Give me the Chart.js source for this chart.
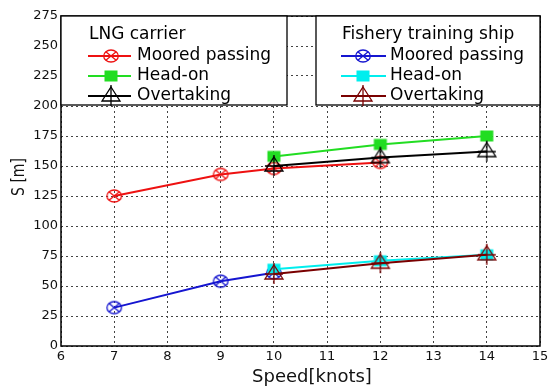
<!DOCTYPE html>
<html>
<head>
<meta charset="utf-8">
<script src="https://cdn.jsdelivr.net/npm/chart.js@4/dist/chart.umd.min.js"></script>
<style>
  html, body { margin: 0; padding: 0; background: #fff; }
  #wrap { width: 554px; height: 388px; }
</style>
</head>
<body>
<div id="wrap"><canvas id="c" width="554" height="388"></canvas></div>
<script>
// Safe passing distance S [m] against ship speed [knots]
const speedsMoored = [7, 9, 10, 12];
const speedsMoving = [10, 12, 14];
const speedsFishMoored = [7, 9, 10];

const lngMoored = [125, 143, 148, 153];
const lngHeadOn = [158, 168, 175];
const lngOvertaking = [150, 157, 162];

const fishMoored = [32, 54, 61];
const fishHeadOn = [64, 71, 76];
const fishOvertaking = [60, 69, 76];

const xTicks = [6, 7, 8, 9, 10, 11, 12, 13, 14, 15];
const yTicks = [0, 25, 50, 75, 100, 125, 150, 175, 200, 225, 250, 275];

const xTitle = 'Speed[knots]';
const yTitle = 'S [m]';

const FONT = 'DejaVu Sans';

function markerCanvas(kind, color) {
  const s = 26, c = document.createElement('canvas');
  c.width = s; c.height = s;
  const g = c.getContext('2d');
  const m = s / 2;
  g.strokeStyle = color; g.fillStyle = color; g.lineWidth = 1.3;
  if (kind === 'moored') {
    g.beginPath(); g.ellipse(m, m, 7.3, 6, 0, 0, Math.PI * 2); g.stroke();
    g.beginPath();
    g.moveTo(m - 5.2, m - 4.2); g.lineTo(m + 5.2, m + 4.2);
    g.moveTo(m + 5.2, m - 4.2); g.lineTo(m - 5.2, m + 4.2);
    g.stroke();
  } else if (kind === 'headon') {
    g.fillRect(m - 6.5, m - 5.5, 13, 11);
  } else {
    g.beginPath();
    g.moveTo(m, m - 9); g.lineTo(m + 9, m + 5); g.lineTo(m - 9, m + 5); g.closePath();
    g.stroke();
    g.beginPath();
    g.moveTo(m, m - 11); g.lineTo(m, m + 10);
    g.moveTo(m - 9, m); g.lineTo(m + 9, m);
    g.stroke();
  }
  return c;
}

const series = [
  { label: 'Moored passing', xs: speedsMoored, ys: lngMoored, color: '#ee1111', kind: 'moored', order: 3 },
  { label: 'Head-on', xs: speedsMoving, ys: lngHeadOn, color: '#22dd22', kind: 'headon', order: 2 },
  { label: 'Overtaking', xs: speedsMoving, ys: lngOvertaking, color: '#000000', kind: 'over', order: 1 },
  { label: 'Moored passing', xs: speedsFishMoored, ys: fishMoored, color: '#1515d0', kind: 'moored', order: 3 },
  { label: 'Head-on', xs: speedsMoving, ys: fishHeadOn, color: '#00eeee', kind: 'headon', order: 2 },
  { label: 'Overtaking', xs: speedsMoving, ys: fishOvertaking, color: '#7a0000', kind: 'over', order: 1 }
];
series.forEach(s => { s.marker = markerCanvas(s.kind, s.color); });

const datasets = series.map(s => ({
  label: s.label,
  data: s.xs.map((x, i) => ({ x: x, y: s.ys[i] })),
  borderColor: s.color,
  backgroundColor: s.color,
  borderWidth: 2,
  pointStyle: s.marker,
  pointRadius: 9,
  pointHoverRadius: 9,
  showLine: true,
  fill: false,
  tension: 0,
  order: s.order
}));

const framePlugin = {
  id: 'frame',
  afterDatasetsDraw(chart) {
    const { ctx, chartArea: a } = chart;
    ctx.save();
    ctx.strokeStyle = '#000'; ctx.lineWidth = 1.5;
    ctx.strokeRect(a.left, a.top, a.right - a.left, a.bottom - a.top);
    // axis titles
    ctx.fillStyle = '#111';
    ctx.textAlign = 'center'; ctx.textBaseline = 'middle';
    ctx.font = '18px "' + FONT + '"';
    ctx.fillText(xTitle, 312, 377);
    ctx.translate(19, 177);
    ctx.rotate(-Math.PI / 2);
    ctx.scale(1, 1.3);
    ctx.font = '14px "' + FONT + '"';
    ctx.fillText(yTitle, 0, 0);
    ctx.restore();
  }
};

const legendPlugin = {
  id: 'groupLegends',
  afterDatasetsDraw(chart) {
    const { ctx } = chart;
    const boxes = [
      { x0: 61, x1: 287, title: 'LNG carrier', tx: 89, lx0: 88, lx1: 131, mx: 111, textX: 137, items: series.slice(0, 3) },
      { x0: 316, x1: 540, title: 'Fishery training ship', tx: 342, lx0: 341, lx1: 386, mx: 363, textX: 390, items: series.slice(3, 6) }
    ];
    const y0 = 16, y1 = 105;
    const rowY = [56, 76, 96];
    ctx.save();
    boxes.forEach(b => {
      ctx.fillStyle = '#fff';
      ctx.fillRect(b.x0, y0, b.x1 - b.x0, y1 - y0);
      ctx.strokeStyle = '#000'; ctx.lineWidth = 1.3;
      ctx.strokeRect(b.x0, y0, b.x1 - b.x0, y1 - y0);
      ctx.fillStyle = '#000';
      ctx.font = '17px "' + FONT + '"';
      ctx.textBaseline = 'middle'; ctx.textAlign = 'left';
      ctx.fillText(b.title, b.tx, 35);
      b.items.forEach((s, i) => {
        const y = rowY[i];
        ctx.strokeStyle = s.color; ctx.lineWidth = 2;
        ctx.beginPath(); ctx.moveTo(b.lx0, y); ctx.lineTo(b.lx1, y); ctx.stroke();
        ctx.drawImage(s.marker, b.mx - 13, y - 13);
        ctx.fillStyle = '#000';
        ctx.fillText(s.label, b.textX, y);
      });
    });
    ctx.restore();
  }
};

const gridOpts = {
  color: '#444',
  lineWidth: 1,
  drawTicks: false,
  tickLength: 0
};

new Chart(document.getElementById('c'), {
  type: 'scatter',
  data: { datasets },
  options: {
    responsive: false,
    animation: false,
    layout: { padding: { top: 16, right: 14, left: 0, bottom: 0 } },
    plugins: { legend: { display: false }, tooltip: { enabled: false } },
    scales: {
      x: {
        type: 'linear', min: 6, max: 15,
        afterBuildTicks(scale) { scale.ticks = xTicks.map(v => ({ value: v })); },
        afterFit(scale) { scale.height = 42; },
        grid: gridOpts,
        border: { display: false, dash: [2, 3] },
        ticks: { padding: 3, color: '#111', font: { family: FONT, size: 13 }, maxRotation: 0, autoSkip: false },
        title: { display: false }
      },
      y: {
        type: 'linear', min: 0, max: 275,
        afterBuildTicks(scale) { scale.ticks = yTicks.map(v => ({ value: v })); },
        afterFit(scale) { scale.width = 61; },
        grid: gridOpts,
        border: { display: false, dash: [2, 3] },
        ticks: { padding: 3, color: '#111', font: { family: FONT, size: 13 }, autoSkip: false },
        title: { display: false }
      }
    }
  },
  plugins: [framePlugin, legendPlugin]
});
</script>
</body>
</html>
